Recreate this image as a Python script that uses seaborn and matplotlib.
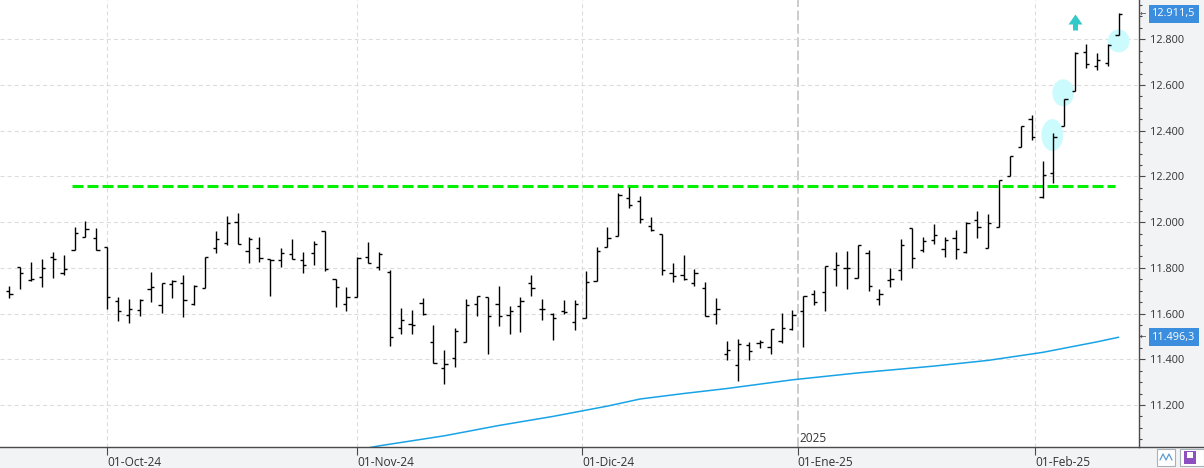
import numpy as np
import pandas as pd
import matplotlib.pyplot as plt
import seaborn as sns
from matplotlib.patches import Ellipse, Rectangle
from matplotlib.path import Path
from matplotlib.lines import Line2D
from matplotlib.ticker import FixedLocator, MultipleLocator, FuncFormatter

# daily sessions on screen (market closed 25-26 Dec and 1 Jan)
sessions = pd.bdate_range("2024-09-18", "2025-02-12")
sessions = sessions.drop(pd.to_datetime(["2024-12-25", "2024-12-26", "2025-01-01"]))

open_ = [11700, 11804, 11748, 11760, 11849, 11776, 11877, 11934, 11929, 11891,
         11655, 11593, 11616, 11706, 11636, 11728, 11733, 11643, 11713, 11886,
         11908, 11999, 11873, 11886, 11839, 11833, 11861, 11833, 11865, 11960,
         11750, 11641, 11671, 11846, 11804, 11783, 11537, 11555, 11645, 11474,
         11361, 11404, 11476, 11642, 11673, 11642, 11593, 11632, 11733, 11620,
         11598, 11613, 11562, 11579, 11741, 11890, 11938, 12104, 12093, 11982,
         11947, 11776, 11768, 11733, 11713, 11597, 11422, 11374, 11463, 11470,
         11454, 11480, 11531, 11610, 11684, 11693, 11796, 11798, 11754, 11864,
         11664, 11747, 11791, 11973, 11878, 11921, 11884, 11932, 11870, 12010,
         11886, 11978, 12202, 12329, 12451, 12111, 12214, 12421, 12575, 12743,
         12682, 12695, 12819]
high = [11721, 11804, 11826, 11839, 11870, 11856, 11978, 12005, 11973, 11891,
        11674, 11664, 11665, 11782, 11733, 11746, 11768, 11726, 11849, 11960,
        12027, 12039, 11934, 11934, 11840, 11886, 11925, 11868, 11916, 11960,
        11753, 11715, 11846, 11912, 11870, 11791, 11625, 11616, 11668, 11550,
        11441, 11536, 11664, 11677, 11674, 11721, 11633, 11673, 11769, 11664,
        11601, 11658, 11660, 11786, 11890, 11978, 12129, 12154, 12115, 12023,
        11947, 11821, 11856, 11795, 11737, 11668, 11480, 11488, 11476, 11485,
        11531, 11603, 11616, 11677, 11703, 11808, 11871, 11874, 11901, 11877,
        11708, 11798, 11925, 11973, 11936, 11992, 11934, 11966, 11999, 12048,
        12036, 12185, 12291, 12422, 12469, 12268, 12389, 12538, 12743, 12781,
        12740, 12780, 12915]
low = [11667, 11709, 11744, 11718, 11757, 11768, 11877, 11934, 11877, 11621,
       11569, 11560, 11591, 11652, 11603, 11670, 11586, 11636, 11713, 11864,
       11900, 11905, 11820, 11826, 11678, 11805, 11838, 11779, 11814, 11788,
       11630, 11613, 11671, 11823, 11789, 11460, 11512, 11512, 11594, 11383,
       11293, 11368, 11476, 11591, 11425, 11547, 11512, 11521, 11678, 11573,
       11486, 11600, 11530, 11579, 11741, 11890, 11938, 12061, 11998, 11963,
       11770, 11740, 11746, 11719, 11588, 11556, 11398, 11306, 11397, 11448,
       11422, 11470, 11528, 11455, 11636, 11613, 11722, 11709, 11754, 11700,
       11636, 11718, 11748, 11801, 11868, 11906, 11849, 11840, 11865, 11932,
       11886, 11978, 12202, 12329, 12358, 12104, 12173, 12421, 12575, 12673,
       12666, 12682, 12819]
close = [11684, 11779, 11753, 11798, 11838, 11794, 11951, 11969, 11877, 11671,
         11611, 11619, 11661, 11715, 11733, 11743, 11660, 11721, 11849, 11928,
         11995, 11905, 11925, 11842, 11833, 11865, 11838, 11811, 11906, 11794,
         11715, 11671, 11843, 11823, 11859, 11498, 11571, 11550, 11597, 11383,
         11380, 11523, 11636, 11676, 11588, 11588, 11611, 11654, 11711, 11620,
         11581, 11608, 11641, 11738, 11874, 11932, 12118, 12075, 12013, 11964,
         11789, 11763, 11750, 11776, 11588, 11620, 11439, 11467, 11435, 11474,
         11531, 11537, 11593, 11677, 11649, 11808, 11811, 11798, 11900, 11719,
         11687, 11751, 11899, 11842, 11916, 11943, 11922, 11881, 11998, 11980,
         11998, 12183, 12291, 12421, 12374, 12206, 12374, 12538, 12739, 12692,
         12708, 12776, 12911.5]

# moving average, read at a few sessions
ma_session = [30, 34, 40, 45, 50, 55, 58, 62, 66, 72, 78, 85, 90, 95, 100, 102]
ma_value = [10986, 11021, 11065, 11110, 11150, 11195, 11226, 11250, 11272, 11310,
            11340, 11370, 11395, 11430, 11476, 11496.3]

resistance = 12158
month_ticks = ["2024-10-01", "2024-11-01", "2024-12-01", "2025-01-01", "2025-02-01"]
month_labels = ["01-Oct-24", "01-Nov-24", "01-Dic-24", "01-Ene-25", "01-Feb-25"]
marked_session = [95.9, 96.9, 102.0]
marked_level = [12381, 12566, 12793]
marked_height = [140, 118, 100]

df = pd.DataFrame({"date": sessions, "open": open_, "high": high,
                   "low": low, "close": close})
df["pos"] = np.arange(len(df))
ma_df = pd.DataFrame({"pos": ma_session, "ma": ma_value})

sns.set_style("white")
plt.rcParams["font.family"] = ["Open Sans", "DejaVu Sans"]
plt.rcParams["lines.scale_dashes"] = False

W, H = 1204, 468
fig = plt.figure(figsize=(W / 100, H / 100), dpi=100, facecolor="#f2f3f5")
ax = fig.add_axes([0, 21 / H, 1139 / W, 447 / H])
ax.set_facecolor("white")

ink = "#4a4a4a"
grid = "#dcdcdc"

# horizontal grid
ax.set_ylim(11016, 12972)
ax.yaxis.set_major_locator(MultipleLocator(200))
ax.yaxis.set_minor_locator(MultipleLocator(50))
ax.grid(axis="y", which="major", color=grid, lw=0.8, ls=(0, (2.9, 2.2)), zorder=0)
ax.grid(axis="x", visible=False)

# month separators
tick_pos = np.interp(pd.to_datetime(month_ticks).asi8, df["date"].values.astype("int64"),
                     df["pos"].values)
for lbl, p in zip(month_labels, tick_pos):
    if lbl.startswith("01-Ene"):
        ax.axvline(p, color="#c4c4c4", lw=1.2, ls=(0, (7, 2.6)), zorder=0)
    else:
        ax.axvline(p, color=grid, lw=0.8, ls=(0, (2.9, 2.2)), zorder=0)

# highlighted sessions
for px, lv, hh in zip(marked_session, marked_level, marked_height):
    ax.add_patch(Ellipse((px, lv), width=2.0, height=hh,
                         facecolor="#ccfbfd", edgecolor="none", zorder=2))

# resistance line
ax.hlines(resistance, 5.8, 101.7, color="#00f000", lw=2.2, ls=(0, (7.9, 2.9)), zorder=2.2)

# moving average
sns.lineplot(data=ma_df, x="pos", y="ma", ax=ax, color="#17a3e5", lw=1.1, zorder=2.4)

# OHLC bars
tick_w = 0.3
bar_lw = 1.0
bar_kw = dict(color="black", lw=bar_lw, zorder=3, snap=True)
ax.vlines(df["pos"], df["low"], df["high"], **bar_kw)
ax.hlines(df["open"], df["pos"] - tick_w, df["pos"], **bar_kw)
ax.hlines(df["close"], df["pos"], df["pos"] + tick_w, **bar_kw)

# up arrow marker above the breakout session
arrow = Path([(0, 8), (7, -2), (2.5, -2), (2.5, -8), (-2.5, -8), (-2.5, -2), (-7, -2), (0, 8)],
             [Path.MOVETO] + [Path.LINETO] * 6 + [Path.CLOSEPOLY])
ax.scatter([98], [12876], marker=arrow, s=11.5 ** 2, color="#33c9c9", linewidths=0, zorder=4)

ax.set_xlim(-0.855, 103.87)
ax.set_xlabel("")
ax.set_ylabel("")

# axes look
for side in ["top", "left"]:
    ax.spines[side].set_visible(False)
for side in ["bottom", "right"]:
    ax.spines[side].set_color(ink)
    ax.spines[side].set_linewidth(1.0)

ax.yaxis.tick_right()
ax.yaxis.set_major_formatter(FuncFormatter(lambda v, _: f"{v:,.0f}".replace(",", ".")))
ax.tick_params(axis="y", which="major", length=4.3, width=0.8, color=ink, pad=3.6,
               labelsize=7.9, labelcolor="#333333", right=True, left=False)
ax.tick_params(axis="y", which="minor", length=2.2, width=0.8, color=ink, right=True,
               left=False)

ax.xaxis.set_major_locator(FixedLocator(tick_pos))
ax.set_xticklabels(month_labels)
ax.tick_params(axis="x", length=5.8, width=0.8, color=ink, pad=0.5, labelsize=8.6,
               labelcolor="#333333", bottom=True)
for t in ax.get_xticklabels():
    t.set_ha("left")

# year marker
jan = tick_pos[month_labels.index("01-Ene-25")]
ax.annotate("2025", xy=(jan, 0), xycoords=("data", "axes fraction"), xytext=(1, 1.5),
            textcoords="offset points", ha="left", va="bottom", fontsize=8.6, color="#333333")


# price tags on the right scale
def fmt_es(v):
    return f"{v:,.1f}".replace(",", "X").replace(".", ",").replace("X", ".")


for v in [close[-1], ma_value[-1]]:
    ax.annotate(fmt_es(v), xy=(1, v), xycoords=("axes fraction", "data"),
                xytext=(9.6, 0), textcoords="offset points", ha="left", va="center",
                fontsize=7.8, color="white", annotation_clip=False,
                bbox=dict(boxstyle="square,pad=0.32", fc="#3b8ede", ec="none"))
    ax.annotate("\u2190", xy=(1, v), xycoords=("axes fraction", "data"),
                xytext=(0.6, 0), textcoords="offset points", ha="left", va="center",
                fontsize=5.5, color=ink, annotation_clip=False)

# bottom line running into the scale panel
fig.add_artist(Line2D([1139 / W, 1], [21 / H, 21 / H], color=ink, lw=1.0))

# small toolbar buttons bottom right
fig.add_artist(Rectangle((1157 / W, 2 / H), 18 / W, 17 / H, fc="white", ec="#a8b0b8", lw=0.8))
fig.add_artist(Line2D(np.array([1160, 1163, 1166, 1169, 1172]) / W,
                      np.array([8, 14, 8, 14, 8]) / H, color="#5b9bd5", lw=0.9))
fig.add_artist(Rectangle((1180 / W, 2 / H), 24 / W, 17 / H, fc="white", ec="#a8b0b8", lw=0.8))
fig.add_artist(Rectangle((1184 / W, 4 / H), 12 / W, 13 / H, fc="#8e4fc0", ec="none"))
fig.add_artist(Rectangle((1187 / W, 10 / H), 6 / W, 6 / H, fc="white", ec="none"))

fig.savefig("out.png", dpi=100, facecolor=fig.get_facecolor())
